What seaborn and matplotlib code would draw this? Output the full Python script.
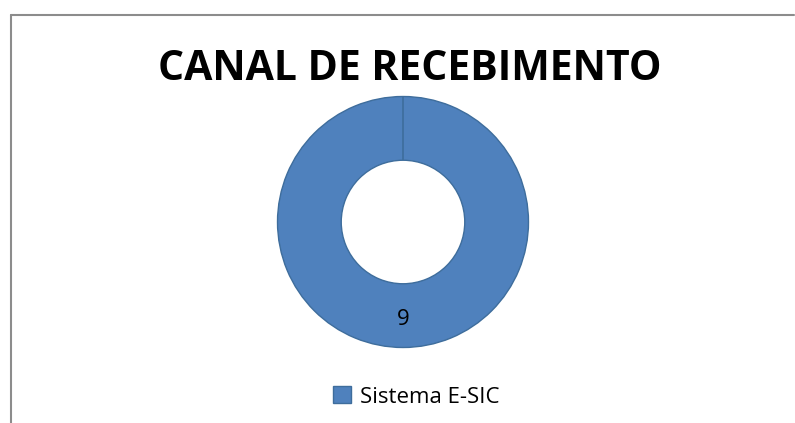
import matplotlib
matplotlib.use("Agg")
import matplotlib.pyplot as plt
import seaborn as sns
from matplotlib.lines import Line2D

categories = ["Sistema E-SIC"]
values = [9]
title = "CANAL DE RECEBIMENTO"

sns.set_theme(style="white")
plt.rcParams['font.family'] = ['Open Sans', 'DejaVu Sans']

fig = plt.figure(figsize=(7.95, 4.23), dpi=100)
fig.patch.set_facecolor("white")

# frame lines (top and left)
fig.add_artist(Line2D([10.5/795, 794/795], [1-15/423, 1-15/423], color="#8c8c8c", lw=1.5))
fig.add_artist(Line2D([10.5/795, 10.5/795], [0, 1-15/423], color="#8c8c8c", lw=1.5))

ax = fig.add_axes([(403-128)/795, (423-222-128)/423, 256/795, 256/423])
color = "#4F81BD"
edge = "#3e6d9c"
ring_width = 1 - 63/128
wedges, texts = ax.pie(values, labels=[str(v) for v in values], labeldistance=0.78,
                       startangle=90, counterclock=False, colors=[color], radius=1,
                       wedgeprops=dict(width=ring_width, edgecolor=edge, linewidth=1),
                       textprops=dict(fontsize=16, color="black", ha="center", va="center"))
# radial boundary of the single slice at its start angle
ax.vlines(0, 1 - ring_width, 1, color=edge, lw=1.2)
ax.set_xlim(-1.02, 1.02)
ax.set_ylim(-1.02, 1.02)
ax.set_aspect("equal")
ax.axis("off")

fig.text(410/795, 1-70/423, title, ha="center", va="center", fontsize=29.5, fontweight="bold", color="black")

leg = fig.legend(wedges, categories, loc="center", bbox_to_anchor=(416/795, 1-397/423),
                 frameon=False, fontsize=16, handlelength=0.8, handleheight=0.8, handletextpad=0.4)
for t in leg.get_texts():
    t.set_color("black")

fig.savefig("out.png", dpi=100)
